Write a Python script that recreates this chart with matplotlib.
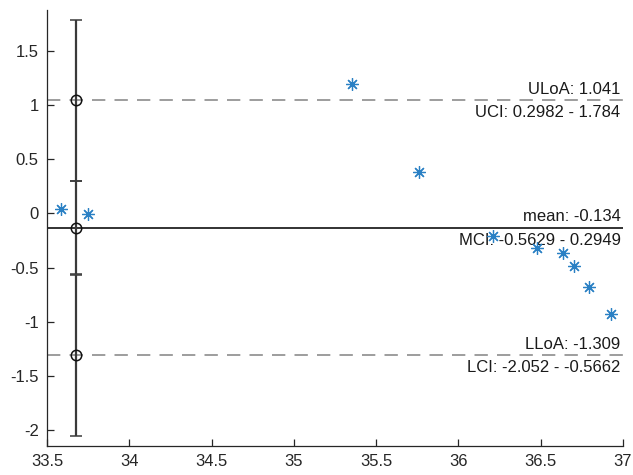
import matplotlib
matplotlib.use("Agg")
import matplotlib.pyplot as plt
import numpy as np

# Data
x_vals = [33.583, 33.75, 35.355, 35.758, 36.21, 36.475, 36.637, 36.70, 36.795, 36.926]
y_vals = [0.04, -0.005, 1.195, 0.384, -0.205, -0.319, -0.365, -0.488, -0.682, -0.924]

mean_diff = -0.134
uloa = 1.041
lloa = -1.309
mci = [-0.5629, 0.2949]
uci = [0.2982, 1.784]
lci = [-2.052, -0.5662]

x_ticks = [33.5, 34, 34.5, 35, 35.5, 36, 36.5, 37]
x_tick_labels = ["33.5", "34", "34.5", "35", "35.5", "36", "36.5", "37"]
y_ticks = [-2, -1.5, -1, -0.5, 0, 0.5, 1, 1.5]
y_tick_labels = ["-2", "-1.5", "-1", "-0.5", "0", "0.5", "1", "1.5"]

plt.rcParams['font.family'] = ['Liberation Sans', 'DejaVu Sans']

fig = plt.figure(figsize=(6.33, 4.75), dpi=100)
ax = fig.add_axes([47/633, 1-446/475, (623-47)/633, (446-10)/475])

xlim = (33.5, 37)
ylim = (-2.145, 1.875)
ax.set_xlim(*xlim)
ax.set_ylim(*ylim)

ex = xlim[0] + 0.05 * (xlim[1] - xlim[0])

axis_col = '#262626'
# reference lines
ax.axhline(uloa, color='#8c8c8c', lw=1.2, dashes=(8, 5.5), zorder=1)
ax.axhline(lloa, color='#8c8c8c', lw=1.2, dashes=(8, 5.5), zorder=1)
ax.axhline(mean_diff, color='#222222', lw=1.3, zorder=1)

# error bars with CIs
for center, ci in [(uloa, uci), (mean_diff, mci), (lloa, lci)]:
    ax.errorbar([ex], [center], yerr=[[center - ci[0]], [ci[1] - center]],
                fmt='o', mfc='none', mec='#111111', ms=7.5, mew=1.1,
                ecolor='#3a3a3a', elinewidth=1.6, capsize=4, capthick=1.6, zorder=3)

# data points
ax.plot(x_vals, y_vals, linestyle='none', marker=(8, 2, 0), ms=9, mew=0.9,
        color='#2a80c4', mec='#2a80c4', zorder=4)

# labels
tx = 36.985
fs = 12
tc = '#1a1a1a'
ax.text(tx, uloa + 0.035, f"ULoA: {uloa}", ha='right', va='bottom', fontsize=fs, color=tc)
ax.text(tx, uloa - 0.045, f"UCI: {uci[0]} - {uci[1]}", ha='right', va='top', fontsize=fs, color=tc)
ax.text(tx, mean_diff + 0.04, f"mean: {mean_diff}", ha='right', va='bottom', fontsize=fs, color=tc)
ax.text(tx, mean_diff - 0.045, f"MCI: {mci[0]} - {mci[1]}", ha='right', va='top', fontsize=fs, color=tc)
ax.text(tx, lloa + 0.035, f"LLoA: {lloa}", ha='right', va='bottom', fontsize=fs, color=tc)
ax.text(tx, lloa - 0.045, f"LCI: {lci[0]} - {lci[1]}", ha='right', va='top', fontsize=fs, color=tc)

ax.set_xticks(x_ticks)
ax.set_xticklabels(x_tick_labels)
ax.set_yticks(y_ticks)
ax.set_yticklabels(y_tick_labels)

for s in ['top', 'right']:
    ax.spines[s].set_visible(False)
for s in ['left', 'bottom']:
    ax.spines[s].set_color(axis_col)
    ax.spines[s].set_linewidth(0.9)
ax.tick_params(direction='in', length=5, width=0.9, color=axis_col,
               labelsize=fs, labelcolor=axis_col, pad=6)

fig.savefig("out.png", dpi=100)
